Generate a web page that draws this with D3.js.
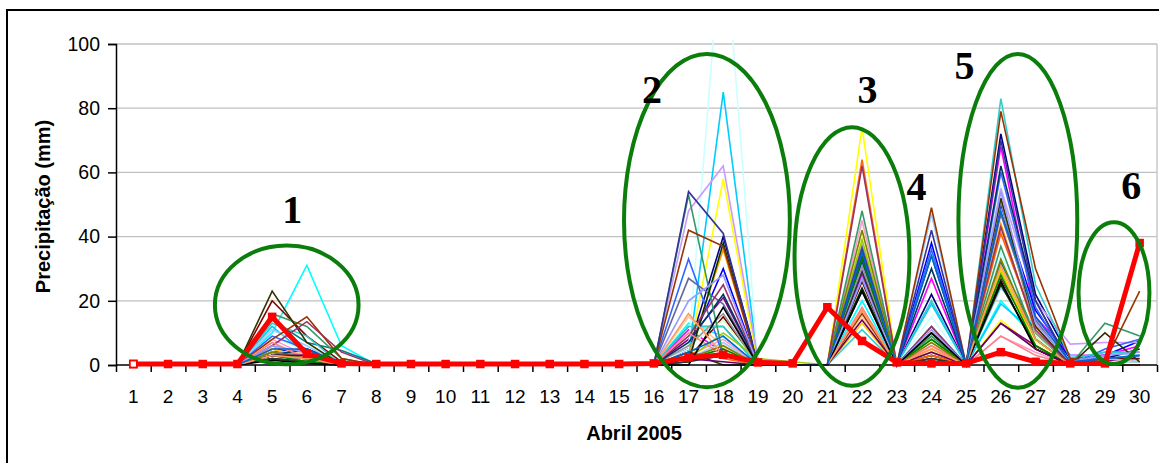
<!DOCTYPE html>
<html><head><meta charset="utf-8">
<script src="https://cdn.jsdelivr.net/npm/d3@7"></script>
<style>body{margin:0;background:#fff} svg{display:block}</style>
</head><body>
<svg id="c" width="1159" height="463"></svg>
<script>
// ---------- DATA ----------
const days = [1,2,3,4,5,6,7,8,9,10,11,12,13,14,15,16,17,18,19,20,21,22,23,24,25,26,27,28,29,30];
const yTicks = [0,20,40,60,80,100];
const yTitle = "Precipitação (mm)";
const xTitle = "Abril 2005";

const stationColors = [
 "#000080","#FF00FF","#FFFF00","#00FFFF","#800080","#800000","#008080","#0000FF",
 "#00CCFF","#CCFFFF","#CCFFCC","#FFFF99","#99CCFF","#FF99CC","#CC99FF","#FFCC99",
 "#3366FF","#33CCCC","#99CC00","#FFCC00","#FF9900","#FF6600","#666699","#969696",
 "#003366","#339966","#003300","#333300","#993300","#993366","#333399","#333333",
 "#008000","#FF8080","#808000","#9999FF","#000000","#660066","#FF9966","#0066CC"
];
const stationValues = [
 [0,0,0,0,4,5,1,0,0,0,0,0,0,0,0,0,5,40,1,0,0,30,0,22,0,72,22,2,2,5],
 [0,0,0,0,6,2,0,0,0,0,0,0,0,0,0,0,11,4,0,0,0,28,0,27,0,68,15,3,3,6],
 [0,0,0,0,5,3,0,0,0,0,0,0,0,0,0,0,3,58,0,0,0,74,0,5,0,14,5,0,1,2],
 [0,0,0,0,10,31,6,0,0,0,0,0,0,0,0,0,13,9,0,0,0,20,0,3,0,20,8,3,2,1],
 [0,0,0,0,3,2,0,0,0,0,0,0,0,0,0,0,8,21,0,0,0,33,0,2,0,13,6,0,1,3],
 [0,0,0,0,20,9,1,0,0,0,0,0,0,0,0,0,2,15,0,0,0,26,0,3,0,27,8,0,2,2],
 [0,0,0,0,14,7,4.5,0.5,0,0,0,0,0,0,0,0,12,12,0,0,0,35,0,34,0,32,10,0,1,1],
 [0,0,0,0,5,4,0,0,0,0,0,0,0,0,0,0,5,30,0,0,0,32,0,38,0,50,17,2,3,7.5],
 [0,0,0,0,12,3,0,0,0,0,0,0,0,0,0,0,3,85,1,0,0,27,0,19,0,19,10,0,2,3],
 [0,0,0,0,3,1,0,0,0,0,0,0,0,0,0,0,5,140,0,0,0,41,0,15,0,35,6,0,1,1],
 [0,0,0,0,9,4,0,0,0,0,0,0,0,0,0,0,6,14,0,0,0,45,0,8,0,56,9,0,0,0],
 [0,0,0,0,7,2,0,0,0,0,0,0,0,0,0,0,4,6,0,0,0,40,0,6,0,28,7,0,0,0],
 [0,0,0,0,11,6,0,0,0,0,0,0,0,0,0,0,2,7,0,0,0,34,0,47,0,24,12,1,4,3],
 [0,0,0,0,8,3,0,0,0,0,0,0,0,0,0,0,3,8,0,0,0,45,0,6,0,9,4,0,2,1],
 [0,0,0,0,5,2,0,0,0,0,0,0,0,0,0,0,48,62,2,0,0,30,0,9,0,55,20,6.5,7,7],
 [0,0,0,0,6,3,0,0,0,0,0,0,0,0,0,0,15,6,0,0,0,15,0,10,0,42,12,0,0,0],
 [0,0,0,0,9,5,0,0,0,0,0,0,0,0,0,0,33,3,0,0,0,35,0,36,0,60,18,0,5,8],
 [0,0,0,0,13,9,0,0,0,0,0,0,0,0,0,0,12,12,0,0,0,11,0,20,0,83,25,2,4,4],
 [0,0,0,0,4,1,0,0,0,0,0,0,0,0,0,0,2,10,2,1,0,39,0,8,0,29,8,0,0,0],
 [0,0,0,0,5,2,0,0,0,0,0,0,0,0,0,0,1,4,0,0,0,13,0,4,0,30,6,0,0,0],
 [0,0,0,0,4,3,0,0,0,0,0,0,0,0,0,0,3,36,0,0,0,17,0,5,0,44,10,0,0,0],
 [0,0,0,0,2,1,0,0,0,0,0,0,0,0,0,0,4,2,0,0,0,64,0,3,0,41,12,0,0,0],
 [0,0,0,0,3,2,0,0,0,0,0,0,0,0,0,0,27,19,0,0,0,37,0,12,0,47,14,0,0,0],
 [0,0,0,0,4,3,0,0,0,0,0,0,0,0,0,0,6,16,0,0,0,31,0,12,0,51,10,0,0,0],
 [0,0,0,0,3,5,0,0,0,0,0,0,0,0,0,0,7,22,0,0,0,23,0,30,0,62,20,0,0,0],
 [0,0,0,0,16,12,2,0,0,0,0,0,0,0,0,0,53,3,0,0,0,48,0,9,0,37,8,0,13,9],
 [0,0,0,0,2,1,0,0,0,0,0,0,0,0,0,0,1,38,0,0,0,24,0,10,0,25,6,0,0,0],
 [0,0,0,0,23,7,0,0,0,0,0,0,0,0,0,0,4,0,0,0,0,34,0,2,0,52,12,0,10,1],
 [0,0,0,0,8,15,2,0,0,0,0,0,0,0,0,0,42,37,0,0,0,16,0,49,0,79,30,2,1,23],
 [0,0,0,0,6,13.5,4,0,0,0,0,0,0,0,0,0,9,25,0,0,0,62,0,12,0,43,11,0,0,0],
 [0,0,0,0,3,2,0,0,0,0,0,0,0,0,0,0,54,41,0,0,0,36,0,42,0,70,20,0,0,0],
 [0,0,0,0,2,1,0,0,0,0,0,0,0,0,0,0,1,3,0,0,0,29,0,2,0,26,5,0,0,0],
 [0,0,0,0,3,1,0,0,0,0,0,0,0,0,0,0,2,5,0,0,0,33,0,8,0,28,6,0,0,0],
 [0,0,0,0,7,2,0,0,0,0,0,0,0,0,0,0,10,3,0,0,0,18,0,6,0,9,3,0,0,0],
 [0,0,0,0,4,2,0,0,0,0,0,0,0,0,0,0,2,6,0,0,0,42,0,7,0,33,8,0,0,0],
 [0,0,0,0,6,4,0,0,0,0,0,0,0,0,0,0,20,28,0,0,0,27,0,11,0,54,13,1,3,4],
 [0,0,0,0,1.5,0.5,0,0,0,0,0,0,0,0,0,0,0,18,0,0,0,23,0,10,0,26,5,0,0,0],
 [0,0,0,0,3,3,0,0,0,0,0,0,0,0,0,0,2,1,0,0,0,14,0,4,0,13,5,0,0,0],
 [0,0,0,0,3,2,0,0,0,0,0,0,0,0,0,0,16,3,0,0,0,17,0,5,0,31,8,0,0,0],
 [0,0,0,0,5,5,0,0,0,0,0,0,0,0,0,0,4,9,0,0,0,35,0,34,0,48,15,1,2,3]
];
const highlightValues = [0.3,0.3,0.3,0.3,15,3.5,0.5,0.3,0.3,0.3,0.3,0.3,0.3,0.3,0.3,0.5,2.3,3.2,0.8,0.5,18,7.5,0.8,0.5,0.5,4,1,0.5,0.5,38];

// event annotations, in data units (day, mm)
const eventNames  = ["1","2","3","4","5","6"];
const eventLabelDay = [5.58,15.95,22.16,23.57,24.95,29.76];
const eventLabelMm  = [44.2,81.6,81.6,51.4,89.1,51.7];
const ellipseNames = ["1","2","3","5","6"];
const ellipseDay   = [5.42,17.53,21.71,26.49,29.26];
const ellipseMm    = [18.7,45.0,33.8,44.9,22.4];
const ellipseHalfDays = [2.07,2.39,1.656,1.713,1.022];
const ellipseHalfMm   = [18.5,51.9,40.3,52.0,22.1];

// ---------- CHART ----------
const svg = d3.select("#c");
const FONT = "'Liberation Sans', Arial, sans-serif";
const L = 116, R = 1157, T = 44, B = 365;
const x = d3.scaleLinear().domain([0.5, 30.5]).range([L, R]);
const y = d3.scaleLinear().domain([0, 100]).range([B, T]);

// outer border
svg.append("rect").attr("x",7).attr("y",10).attr("width",1170).attr("height",470)
  .attr("fill","none").attr("stroke","#000").attr("stroke-width",2);

// gridlines
svg.append("g").selectAll("line").data(yTicks.filter(v=>v>0)).join("line")
  .attr("x1",L).attr("x2",R).attr("y1",d=>y(d)).attr("y2",d=>y(d))
  .attr("stroke","#c0c0c0").attr("stroke-width",1.3);
svg.append("line").attr("x1",R).attr("x2",R).attr("y1",y(100)).attr("y2",y(0))
  .attr("stroke","#c0c0c0").attr("stroke-width",1.3);

// clip
svg.append("defs").append("clipPath").attr("id","clip").append("rect")
  .attr("x",L-4).attr("y",40).attr("width",R-L+8).attr("height",B-40+4);

// station lines
const line = d3.line().x((d,i)=>x(days[i])).y(d=>y(d));
const gLines = svg.append("g").attr("clip-path","url(#clip)");
gLines.selectAll("path").data(stationValues).join("path")
  .attr("d", line).attr("fill","none")
  .attr("stroke",(d,i)=>stationColors[i]).attr("stroke-width",1.6);

// axes
const yAxis = d3.axisLeft(y).tickValues(yTicks).tickSize(8).tickPadding(8);
const gy = svg.append("g").attr("transform",`translate(${L},0)`).call(yAxis);
gy.select(".domain").attr("stroke","#000").attr("stroke-width",1.5);
gy.selectAll(".tick line").attr("stroke","#000").attr("stroke-width",1.5);
gy.selectAll("text").attr("font-family",FONT).attr("font-size",19.5).attr("fill","#000");

const halfTicks = days.map(d=>d-0.5).concat([30.5]);
const xAxis = d3.axisBottom(x).tickValues(halfTicks).tickSize(7).tickFormat("");
const gx = svg.append("g").attr("transform",`translate(0,${B})`).call(xAxis);
gx.select(".domain").attr("stroke","#000").attr("stroke-width",1.5).attr("d",`M${L},0H${R}`);
gx.selectAll(".tick line").attr("stroke","#000").attr("stroke-width",1.5);

svg.append("g").selectAll("text").data(days).join("text")
  .attr("x",d=>x(d)).attr("y",403).attr("text-anchor","middle")
  .attr("font-family",FONT).attr("font-size",19).text(d=>d);

// highlight series
const gH = svg.append("g");
gH.selectAll("rect").data(highlightValues).join("rect")
  .attr("x",(d,i)=>x(days[i])-3.5).attr("y",d=>y(d)-3.5)
  .attr("width",7).attr("height",7).attr("fill","#ff0000").attr("stroke","#ff0000").attr("stroke-width",1.5);
gH.append("path").datum(highlightValues).attr("d",line)
  .attr("fill","none").attr("stroke","#ff0000").attr("stroke-width",5)
  .attr("stroke-linejoin","round");
// first marker appears hollow
gH.append("rect").attr("x",x(days[0])-3.5).attr("y",y(highlightValues[0])-3.5)
  .attr("width",7).attr("height",7).attr("fill","#fff").attr("stroke","#ff0000").attr("stroke-width",1.8);

// ellipses
svg.append("g").selectAll("ellipse").data(ellipseNames).join("ellipse")
  .attr("cx",(d,i)=>x(ellipseDay[i])).attr("cy",(d,i)=>y(ellipseMm[i]))
  .attr("rx",(d,i)=>x(ellipseHalfDays[i]) - x(0))
  .attr("ry",(d,i)=>y(0) - y(ellipseHalfMm[i]))
  .attr("fill","none").attr("stroke","#0b7d0b").attr("stroke-width",4);

// event labels
svg.append("g").selectAll("text").data(eventNames).join("text")
  .attr("x",(d,i)=>x(eventLabelDay[i])).attr("y",(d,i)=>y(eventLabelMm[i]))
  .attr("text-anchor","middle").attr("font-family","'Liberation Serif','Times New Roman',serif")
  .attr("font-weight","bold").attr("font-size",40).text(d=>d);

// titles
svg.append("text").attr("transform","translate(42.5,206.5) rotate(-90)")
  .attr("text-anchor","middle").attr("dominant-baseline","central")
  .attr("font-family",FONT).attr("font-weight","bold").attr("font-size",20).text(yTitle);
svg.append("text").attr("x",634).attr("y",440).attr("text-anchor","middle")
  .attr("font-family",FONT).attr("font-weight","bold").attr("font-size",20).text(xTitle);
</script>
</body></html>
